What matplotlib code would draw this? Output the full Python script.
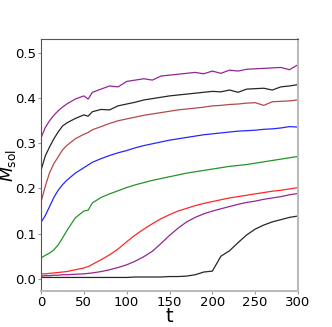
import matplotlib.pyplot as plt

t = [0, 5, 10, 15, 20, 25, 30, 40, 50, 55, 60, 70, 80, 90, 100, 110, 120, 130, 140, 150,
     160, 170, 180, 190, 200, 210, 220, 230, 240, 250, 260, 270, 280, 290, 300]

m_purple_top = [0.312, 0.335, 0.350, 0.362, 0.372, 0.380, 0.387, 0.398, 0.405, 0.398, 0.413,
                0.420, 0.427, 0.425, 0.437, 0.440, 0.443, 0.440, 0.449, 0.451,
                0.453, 0.455, 0.457, 0.454, 0.460, 0.455, 0.462, 0.460, 0.464, 0.465,
                0.466, 0.467, 0.468, 0.463, 0.474]
m_black_top = [0.240, 0.272, 0.292, 0.310, 0.325, 0.338, 0.345, 0.355, 0.363, 0.360, 0.370,
               0.375, 0.374, 0.383, 0.387, 0.391, 0.396, 0.399, 0.402, 0.405,
               0.407, 0.409, 0.411, 0.413, 0.415, 0.414, 0.418, 0.413, 0.420, 0.421,
               0.422, 0.418, 0.425, 0.427, 0.430]
m_brown = [0.170, 0.205, 0.235, 0.255, 0.270, 0.285, 0.295, 0.310, 0.320, 0.324, 0.330,
           0.337, 0.344, 0.350, 0.354, 0.358, 0.362, 0.365, 0.368, 0.371,
           0.374, 0.376, 0.378, 0.380, 0.383, 0.384, 0.386, 0.387, 0.389, 0.390,
           0.384, 0.392, 0.393, 0.394, 0.396]
m_blue = [0.125, 0.140, 0.160, 0.180, 0.196, 0.208, 0.218, 0.234, 0.246, 0.252, 0.258,
          0.266, 0.273, 0.279, 0.284, 0.290, 0.295, 0.299, 0.303, 0.307,
          0.310, 0.313, 0.316, 0.319, 0.321, 0.323, 0.325, 0.327, 0.328, 0.329,
          0.331, 0.332, 0.334, 0.337, 0.336]
m_green = [0.046, 0.052, 0.057, 0.064, 0.075, 0.090, 0.106, 0.135, 0.150, 0.152, 0.168,
           0.180, 0.188, 0.195, 0.202, 0.208, 0.213, 0.218, 0.222, 0.226,
           0.230, 0.234, 0.237, 0.240, 0.243, 0.246, 0.249, 0.251, 0.253, 0.256,
           0.259, 0.262, 0.265, 0.268, 0.271]
m_red = [0.011, 0.011, 0.012, 0.013, 0.014, 0.015, 0.016, 0.020, 0.024, 0.027, 0.032,
         0.042, 0.053, 0.066, 0.082, 0.097, 0.110, 0.122, 0.133, 0.142,
         0.150, 0.156, 0.162, 0.167, 0.171, 0.175, 0.179, 0.182, 0.185, 0.188,
         0.191, 0.194, 0.196, 0.199, 0.202]
m_purple_low = [0.006, 0.007, 0.007, 0.008, 0.008, 0.009, 0.009, 0.010, 0.011, 0.012, 0.013,
                0.016, 0.020, 0.025, 0.031, 0.039, 0.049, 0.061, 0.078, 0.096,
                0.112, 0.126, 0.136, 0.144, 0.150, 0.155, 0.160, 0.165, 0.169, 0.172,
                0.176, 0.179, 0.182, 0.186, 0.189]
m_black_low = [0.003, 0.003, 0.003, 0.003, 0.003, 0.003, 0.003, 0.003, 0.003, 0.003, 0.003,
               0.003, 0.003, 0.003, 0.003, 0.004, 0.004, 0.004, 0.004, 0.005,
               0.005, 0.006, 0.009, 0.015, 0.017, 0.050, 0.062, 0.080, 0.097, 0.110,
               0.119, 0.126, 0.131, 0.136, 0.139]

series = [
    (m_purple_top, "purple"),
    (m_black_top, "black"),
    (m_brown, "brown"),
    (m_blue, "blue"),
    (m_green, "green"),
    (m_red, "red"),
    (m_purple_low, "purple"),
    (m_black_low, "black"),
]

fig = plt.figure(figsize=(3.32, 3.27), dpi=100)
ax = fig.add_axes([41 / 332, 36 / 327, 257 / 332, 252 / 327])
for m, c in series:
    ax.plot(t, m, color=c, lw=0.9, alpha=0.85)

ax.set_xlim(0, 300)
ax.set_ylim(-0.027, 0.531)
ax.set_xticks([0, 50, 100, 150, 200, 250, 300])
ax.set_yticks([0.0, 0.1, 0.2, 0.3, 0.4, 0.5])
ax.tick_params(labelsize=9.5, length=2, color="#999999", pad=1.5)
ax.set_xlabel("t", fontsize=14)
ax.set_ylabel(r"$M_{\rm sol}$", fontsize=12.5)
ax.xaxis.set_label_coords(0.5, -0.065)
ax.yaxis.set_label_coords(-0.088, 0.5)
for s in ["bottom", "right"]:
    ax.spines[s].set_color("#bbbbbb")
    ax.spines[s].set_linewidth(1.5)
for s in ["left", "top"]:
    ax.spines[s].set_color("#555555")

fig.savefig("out.png", dpi=100)
